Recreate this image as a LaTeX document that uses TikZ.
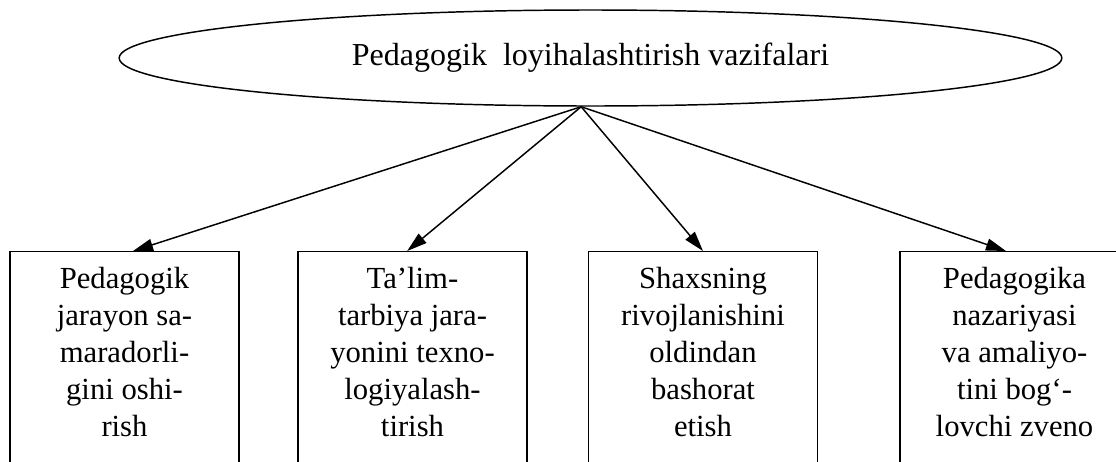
\documentclass[tikz,border=0pt]{standalone}
\usepackage{fontspec}
\setmainfont{Liberation Serif}
\usetikzlibrary{shapes.geometric,arrows.meta}

\begin{document}
\begin{tikzpicture}[x=0.75pt,y=-0.75pt]
    \useasboundingbox (0,0) rectangle (1116,461);
    \clip (0,0) rectangle (1116,461);% the boxes run past the lower edge
    \node[ellipse,draw,line width=1.1pt,minimum width=707pt,minimum height=72pt,inner sep=0pt,
          font=\fontsize{24}{28}\selectfont] (Task) at (590.5,58) {Pedagogik\ \ loyihalashtirish vazifalari};
    \coordinate (Apex) at ([xshift=-7pt]Task.south);
    \foreach \n/\x/\txt in {1/124.5/{Pedagogik\\jarayon sa-\\maradorli-\\gini oshi-\\rish},
                            2/412.5/{Ta’lim-\\tarbiya jara-\\yonini texno-\\logiyalash-\\tirish},
                            3/703/{Shaxsning\\rivojlanishini\\oldindan\\bashorat\\etish},
                            4/1014.5/{Pedagogika\\nazariyasi\\va amaliyo-\\tini bog‘-\\lovchi zveno}}{% one box per task
        \node[draw,line width=1.1pt,anchor=north,minimum width=171.75pt,minimum height=200pt] (Box\n) at (\x,251) {};
        \node[anchor=north,align=center,inner sep=0pt,font=\fontsize{23}{27.75}\selectfont]
            (Text\n) at ([yshift=-12pt]Box\n.north) {\txt};
    }
    \foreach \n/\dx in {1/6.4pt,2/-4pt,3/0pt,4/-6.4pt}{% arrows from the ellipse
        \draw[line width=1.1pt,-{Triangle[length=15pt,width=9pt]}] (Apex) -- ([xshift=\dx]Box\n.north);
    }
\end{tikzpicture}
\end{document}
